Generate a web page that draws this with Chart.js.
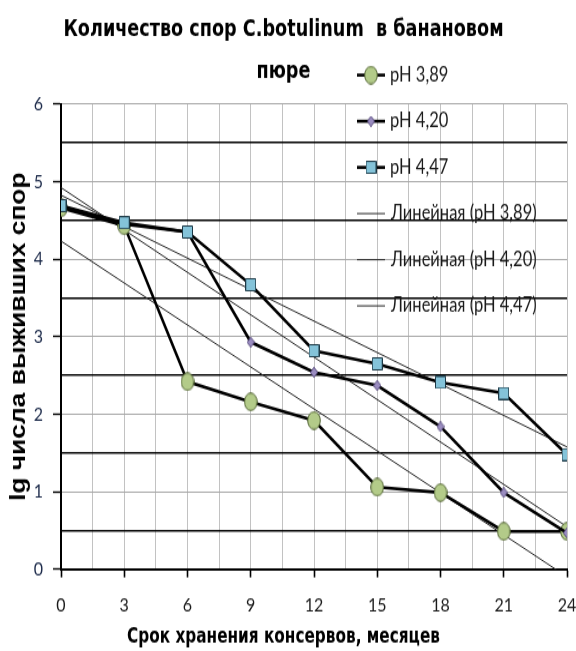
<!DOCTYPE html>
<html><head><meta charset="utf-8">
<script src="https://cdn.jsdelivr.net/npm/chart.js@4.4.1/dist/chart.umd.min.js"></script>
<style>
html,body{margin:0;padding:0;background:#fff;width:576px;height:651px;overflow:hidden}
#wrap{width:576px;height:543px;transform:scaleY(1.19890);transform-origin:0 0}
</style>
</head><body>
<div id="wrap"><canvas id="c" width="576" height="543"></canvas></div>
<script>
// ---- data ----
const months = [0, 3, 6, 9, 12, 15, 18, 21, 24];
const ph389 = [4.66, 4.43, 2.42, 2.16, 1.92, 1.06, 0.99, 0.49, 0.49];
const ph420 = [4.68, 4.45, 4.35, 2.93, 2.54, 2.37, 1.84, 0.99, 0.47];
const ph447 = [4.69, 4.47, 4.35, 3.67, 2.82, 2.65, 2.41, 2.27, 1.48];
const seriesLabels = ['pH 3,89', 'pH 4,20', 'pH 4,47'];
const trendLabels = ['Линейная (pH 3,89)', 'Линейная (pH 4,20)', 'Линейная (pH 4,47)'];
const titleLines = ['Количество спор C.botulinum  в банановом', 'пюре'];
const xTitle = 'Срок хранения консервов, месяцев';
const yTitle = 'lg числа выживших спор';

const COND = '"DejaVu Sans Condensed", "DejaVu Sans", sans-serif';
const LATO = 'Lato, "DejaVu Sans Condensed", sans-serif';

function marker(kind) {
  const c = document.createElement('canvas');
  let w, h;
  if (kind === 'ellipse') { w = 14; h = 16; }
  else if (kind === 'square') { w = 11; h = 11; }
  else { w = 8; h = 9; }
  c.width = w; c.height = h;
  const g = c.getContext('2d');
  g.beginPath();
  if (kind === 'ellipse') {
    g.ellipse(w / 2, h / 2, w / 2 - 0.7, h / 2 - 0.7, 0, 0, Math.PI * 2);
    g.fillStyle = '#b3cb89'; g.strokeStyle = '#4f6130';
  } else if (kind === 'square') {
    g.rect(0.5, 0.5, w - 1, h - 1);
    g.fillStyle = '#84c3d9'; g.strokeStyle = '#1d3946';
  } else {
    g.moveTo(w / 2, 0.3); g.lineTo(w - 0.3, h / 2); g.lineTo(w / 2, h - 0.3); g.lineTo(0.3, h / 2); g.closePath();
    g.fillStyle = '#9a8cc0'; g.strokeStyle = '#54487a';
  }
  g.fill(); g.lineWidth = 1; g.stroke();
  return c;
}
const markers = [marker('ellipse'), marker('diamond'), marker('square')];

function linearFit(xs, ys) {
  const n = xs.length;
  const mx = xs.reduce((a, b) => a + b, 0) / n;
  const my = ys.reduce((a, b) => a + b, 0) / n;
  let sxy = 0, sxx = 0;
  for (let i = 0; i < n; i++) { sxy += (xs[i] - mx) * (ys[i] - my); sxx += (xs[i] - mx) ** 2; }
  const b = sxy / sxx, a = my - b * mx;
  return [{ x: xs[0], y: a + b * xs[0] }, { x: xs[n - 1], y: a + b * xs[n - 1] }];
}
const pts = ys => months.map((m, i) => ({ x: m, y: ys[i] }));
const allSeries = [ph389, ph420, ph447];

const datasets = [];
allSeries.forEach((s, i) => {
  datasets.push({
    label: seriesLabels[i], data: pts(s), showLine: true, borderColor: '#000', borderWidth: 2.6,
    pointStyle: markers[i], pointRadius: 6, pointHoverRadius: 6, order: 3 - i, tension: 0
  });
});
allSeries.forEach((s, i) => {
  datasets.push({
    label: trendLabels[i], data: linearFit(months, s), showLine: true, borderColor: '#262626', borderWidth: 1,
    pointRadius: 0, pointHoverRadius: 0, order: 10 + i, tension: 0
  });
});

const legendPlugin = {
  id: 'customLegend',
  afterDatasetsDraw(chart) {
    const ctx = chart.ctx;
    const x0 = 357, x1 = 385, tx = 390, y0 = 62.6, dy = 38.5;
    ctx.save();
    ctx.font = '16.5px ' + LATO;
    ctx.textBaseline = 'middle';
    ctx.textAlign = 'left';
    chart.data.datasets.forEach((ds, i) => {
      const y = y0 + i * dy;
      ctx.beginPath();
      ctx.moveTo(x0, y); ctx.lineTo(x1, y);
      ctx.strokeStyle = ds.borderColor;
      ctx.lineWidth = i < 3 ? 2.6 : 1;
      ctx.stroke();
      if (i < 3) {
        const m = ds.pointStyle;
        ctx.drawImage(m, (x0 + x1) / 2 - m.width / 2, y - m.height / 2);
      }
      ctx.fillStyle = '#1a1a1a';
      ctx.fillText(ds.label, i < 3 ? tx : tx + 1, y);
    });
    ctx.restore();
  }
};

new Chart(document.getElementById('c'), {
  type: 'scatter',
  data: { datasets },
  plugins: [legendPlugin],
  options: {
    responsive: false,
    animation: false,
    events: [],
    layout: { padding: { right: 9, left: 0, top: 0, bottom: 0 } },
    plugins: {
      legend: { display: false },
      tooltip: { enabled: false },
      title: {
        display: true, text: titleLines, color: '#000',
        font: { family: COND, size: 19.6, weight: 'bold', lineHeight: 35 / 19.6 },
        padding: { top: 7.5, bottom: 9.2 }
      },
      subtitle: {
        display: true, position: 'bottom', text: xTitle, color: '#000',
        font: { family: COND, size: 17, weight: 'bold', lineHeight: 1 },
        padding: { top: 0, bottom: 2.5 }
      }
    },
    scales: {
      x: {
        type: 'linear', min: 0, max: 24,
        afterFit(s) { s.height = 48.6; s.paddingRight = 0; s.paddingLeft = 0; },
        ticks: {
          stepSize: 1.5, autoSkip: false, maxRotation: 0, padding: 14,
          color: '#1a1a1a', font: { family: LATO, size: 16 },
          callback: v => (v % 3 === 0 ? String(v) : '')
        },
        grid: {
          color: '#c2c2c2', lineWidth: 1, tickLength: 6.7,
          tickColor: c => (c.tick && c.tick.value % 3 === 0 ? '#000' : 'rgba(0,0,0,0)'),
          tickWidth: 1.6
        },
        border: { color: '#000', width: 2 }
      },
      y: {
        type: 'linear', min: 0, max: 6,
        afterFit(s) { s.width = 61; },
        ticks: {
          stepSize: 0.5, autoSkip: false, padding: 10,
          color: '#1c2a4a', font: { family: LATO, size: 16 },
          callback: v => (v % 1 === 0 ? String(v) : '')
        },
        grid: {
          color: c => (c.tick && c.tick.value % 1 === 0 ? '#a8a8a8' : '#000'),
          lineWidth: c => (c.tick && c.tick.value % 1 === 0 ? 1 : 1.6),
          tickLength: 8,
          tickColor: c => (c.tick && c.tick.value % 1 === 0 ? '#000' : 'rgba(0,0,0,0)'),
          tickWidth: 1.4
        },
        border: { color: '#000', width: 2 },
        title: {
          display: true, text: yTitle, color: '#000',
          font: { family: '"Liberation Sans", Arial, sans-serif', size: 22, weight: 'bold', lineHeight: 1 },
          padding: { top: 8, bottom: 0 }
        }
      }
    }
  }
});
</script>
</body></html>
